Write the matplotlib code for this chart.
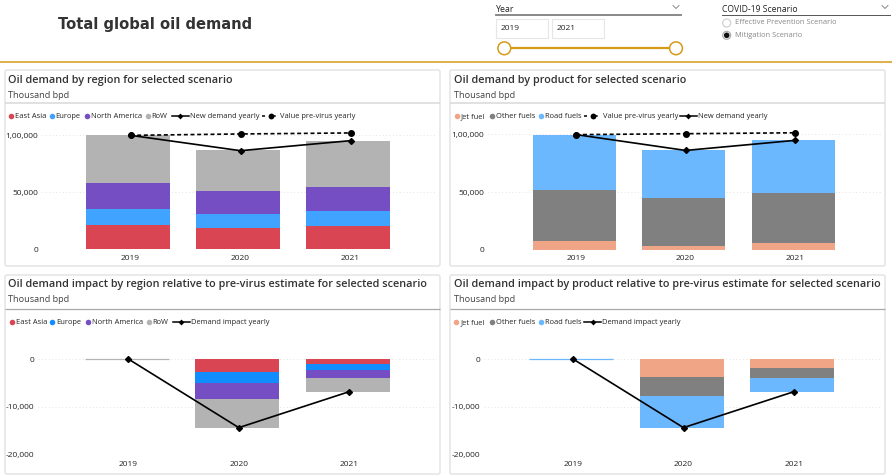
import matplotlib
matplotlib.use("Agg")
import matplotlib.pyplot as plt
from matplotlib.patches import FancyBboxPatch, Rectangle, Circle

plt.rcParams['font.family'] = ['Open Sans', 'DejaVu Sans']

years = ["2019", "2020", "2021"]
region_names = ["East Asia", "Europe", "North America", "RoW"]
product_names = ["Jet fuel", "Other fuels", "Road fuels"]

east_asia = [21100, 18500, 20200]
europe = [14100, 12300, 13200]
north_america = [22900, 20200, 21100]
row = [42200, 36100, 40500]
new_demand_region = [100000, 86500, 95300]
pre_virus_region = [100000, 101200, 102100]

jet_fuel = [7500, 3200, 5800]
other_fuels = [44200, 41600, 43300]
road_fuels = [47700, 41600, 46000]
new_demand_product = [99800, 86100, 94800]
pre_virus_product = [99800, 100600, 101400]

impact_east_asia = [0, -2640, -1040]
impact_europe = [0, -2360, -1250]
impact_north_america = [0, -3330, -1670]
impact_row = [0, -6040, -2920]
impact_region_line = [0, -14300, -6800]

impact_jet = [0, -3750, -1875]
impact_other = [0, -3960, -2080]
impact_road = [0, -6670, -2920]
impact_product_line = [0, -14300, -6800]

demand_ticks = [0, 50000, 100000]
demand_labels = ["0", "50,000", "1,00,000"]
impact_ticks = [-20000, -10000, 0]
impact_labels = ["-20,000", "-10,000", "0"]

RED, BLUE, PURPLE, GREY = "#d94552", "#3fa3ff", "#744ec2", "#b3b3b3"
BLUE2 = "#118dff"
JET, OTHER, ROAD = "#f0a587", "#808080", "#6cb8ff"
GOLD = "#d69a17"
TXT = "#252423"

W, H = 892, 476
fig = plt.figure(figsize=(W / 100, H / 100), dpi=100, facecolor="white")

# whole figure overlay in pixel coordinates for cards, slicers and legends
bg = fig.add_axes([0, 0, 1, 1])
bg.set_xlim(0, W)
bg.set_ylim(H, 0)
bg.axis("off")


def card(x0, x1, y0, y1, title, title_y, sub_y, line_y, line_c="#d8d8d8", line_w=1.1, tx=None):
    bg.add_patch(FancyBboxPatch((x0, y0), x1 - x0, y1 - y0, boxstyle="round,pad=0,rounding_size=2",
                                fc="white", ec="#e6e6e6", lw=1.2))
    bg.plot([x0, x1], [line_y, line_y], color=line_c, lw=line_w, solid_capstyle="butt")
    tx = x0 + 2.5 if tx is None else tx
    bg.text(tx, title_y, title, fontsize=7.83, fontweight=600, color="#333333", va="center")
    bg.text(tx, sub_y, "Thousand bpd", fontsize=6.6, color="#444444", va="center")


def legend(y, items):
    for kind, color, mx, tx, label in items:
        if kind == "dot":
            bg.plot([mx], [y], "o", color=color, ms=4, mec="none")
        elif kind == "line":
            bg.plot([mx - 8.5, mx + 8.5], [y, y], color="black", lw=1.1)
            bg.plot([mx], [y], "D", color="black", ms=3, mec="none")
        else:
            bg.plot([mx - 9, mx + 9], [y, y], color="black", lw=1.1, dashes=(2, 5))
            bg.plot([mx], [y], "o", color="black", ms=4.2, mec="none")
        bg.text(tx, y, label, fontsize=5.4, color=TXT, va="center")


def chart(left, right, first_cat, step, y_zero, px_per_k, top, bottom, ticks, labels,
          stacks, colors, width, bar_shift, lines, zero_color=None):
    ax = fig.add_axes([left / W, 1 - bottom / H, (right - left) / W, (bottom - top) / H])
    ax.patch.set_alpha(0)
    ax.set_xlim((left - first_cat) / step, (right - first_cat) / step)
    ax.set_ylim((y_zero - bottom) / px_per_k * 1000, (y_zero - top) / px_per_k * 1000)
    x = list(range(len(years)))
    bar_x = [i - bar_shift / step for i in x]
    base = [0, 0, 0]
    for vals, c in zip(stacks, colors):
        ax.bar(bar_x, vals, width / step, bottom=base, color=c, linewidth=0, zorder=2)
        base = [b + v for b, v in zip(base, vals)]
    if zero_color:
        ax.bar(bar_x[0], 0, width / step, edgecolor=zero_color, linewidth=0.9, zorder=2)
    for vals, style in lines:
        if style == "solid":
            ax.plot(x, vals, color="black", lw=1.2, marker="D", ms=3, zorder=4, clip_on=False)
        else:
            ax.plot(x, vals, color="black", lw=1.2, dashes=(2.4, 1.6), marker="o", ms=4, zorder=3, clip_on=False)
    ax.set_yticks(ticks)
    ax.set_yticklabels(labels)
    ax.set_xticks(x)
    ax.set_xticklabels(years)
    ax.tick_params(axis="both", length=0, labelsize=6, labelcolor=TXT)
    ax.tick_params(axis="y", pad=2.8)
    ax.tick_params(axis="x", pad=4)
    ax.grid(axis="y", color="#e4e4e4", lw=0.7, linestyle=(0, (1, 2.5)), zorder=0)
    ax.set_axisbelow(True)
    for s in ax.spines.values():
        s.set_visible(False)
    return ax


# header
bg.text(58, 24, "Total global oil demand", fontsize=10.6, fontweight="bold", family="DejaVu Sans",
        color="#333333", va="center")
bg.plot([0, W], [61.7, 61.7], color=GOLD, lw=1.1)

# year slicer
bg.text(496, 9, "Year", fontsize=6.3, color=TXT, va="center")
bg.plot([496, 681], [14.7, 14.7], color="#808080", lw=1.3)
bg.plot([673, 676, 679], [5.5, 8.5, 5.5], color="#777777", lw=0.6)
for bx, label in [(496, years[0]), (552, years[2])]:
    bg.add_patch(Rectangle((bx, 19.3), 52, 18.4, fc="white", ec="#e6e6e6", lw=0.8))
    bg.text(bx + 5, 29, label, fontsize=6, color=TXT, va="center")
bg.plot([504, 676], [48.3, 48.3], color=GOLD, lw=1.6)
for cx in [504.3, 676]:
    bg.add_patch(Circle((cx, 48.3), 6.4, fc="white", ec=GOLD, lw=1.1, zorder=3))

# scenario slicer
bg.text(722, 9, "COVID-19 Scenario", fontsize=6.25, color=TXT, va="center")
bg.plot([722, 890], [14.7, 14.7], color="#555555", lw=0.7)
bg.plot([882, 885, 888], [5.5, 8.5, 5.5], color="#777777", lw=0.6)
bg.add_patch(Circle((726.7, 23), 4, fc="white", ec="#cccccc", lw=0.8))
bg.text(734.7, 23, "Effective Prevention Scenario", fontsize=5.4, color="#888888", va="center")
bg.add_patch(Circle((726.7, 35.3), 4, fc="white", ec="#aaaaaa", lw=0.8))
bg.add_patch(Circle((726.7, 35.3), 2.8, fc="#111111", ec="none"))
bg.text(734.7, 35.3, "Mitigation Scenario", fontsize=5.4, color="#888888", va="center")

# cards
card(5, 440, 70, 266, "Oil demand by region for selected scenario", 81, 95, 103.3, tx=7.5)
card(450, 885, 70, 266, "Oil demand by product for selected scenario", 81, 95, 103, tx=454.3)
card(5, 440, 275, 474, "Oil demand impact by region relative to pre-virus estimate for selected scenario",
     284.5, 299, 309.3, line_c="#a8a8a8", line_w=0.9, tx=7.5)
card(450, 885, 275, 474, "Oil demand impact by product relative to pre-virus estimate for selected scenario",
     284.5, 299, 309.3, line_c="#a8a8a8", line_w=0.9, tx=453.7)

# legends
legend(116.3, [("dot", RED, 10.7, 15, region_names[0]), ("dot", BLUE, 51.7, 55.7, region_names[1]),
               ("dot", PURPLE, 87.3, 90.7, region_names[2]), ("dot", GREY, 148, 151.7, region_names[3]),
               ("line", None, 180, 189.7, "New demand yearly"), ("dash", None, 270.7, 280.3, "Value pre-virus yearly")])
legend(116.3, [("dot", JET, 456.7, 460.7, product_names[0]), ("dot", OTHER, 492.3, 496.3, product_names[1]),
               ("dot", ROAD, 541, 545, product_names[2]), ("dash", None, 593, 602.7, "Value pre-virus yearly"),
               ("line", None, 688.3, 698.3, "New demand yearly")])
legend(322.3, [("dot", RED, 12, 16, region_names[0]), ("dot", BLUE2, 52.3, 56.7, region_names[1]),
               ("dot", PURPLE, 88, 91.7, region_names[2]), ("dot", GREY, 149, 152.7, region_names[3]),
               ("line", None, 181.3, 190.7, "Demand impact yearly")])
legend(322.3, [("dot", JET, 456, 460.3, product_names[0]), ("dot", OTHER, 491.7, 496, product_names[1]),
               ("dot", ROAD, 540.7, 544.7, product_names[2]), ("line", None, 592.7, 602, "Demand impact yearly")])

# charts
chart(42, 437, 130.5, 110, 249, 1.1367, 125, 249, demand_ticks, demand_labels,
      [east_asia, europe, north_america, row], [RED, BLUE, PURPLE, GREY], 84, 2.5,
      [(pre_virus_region, "dash"), (new_demand_region, "solid")])
chart(488, 882, 576.3, 109.3, 249.7, 1.153, 125, 249.7, demand_ticks, demand_labels,
      [jet_fuel, other_fuels, road_fuels], [JET, OTHER, ROAD], 83, 1.8,
      [(pre_virus_product, "dash"), (new_demand_product, "solid")])
chart(38, 437, 128.3, 110.5, 359, 4.8, 345, 455, impact_ticks, impact_labels,
      [impact_east_asia, impact_europe, impact_north_america, impact_row], [RED, BLUE2, PURPLE, GREY], 84, 1.8,
      [(impact_region_line, "solid")], zero_color=GREY)
chart(484, 881, 573, 110.5, 359, 4.8, 345, 455, impact_ticks, impact_labels,
      [impact_jet, impact_other, impact_road], [JET, OTHER, ROAD], 84, 2,
      [(impact_product_line, "solid")], zero_color=ROAD)

fig.savefig("out.png", dpi=100)
